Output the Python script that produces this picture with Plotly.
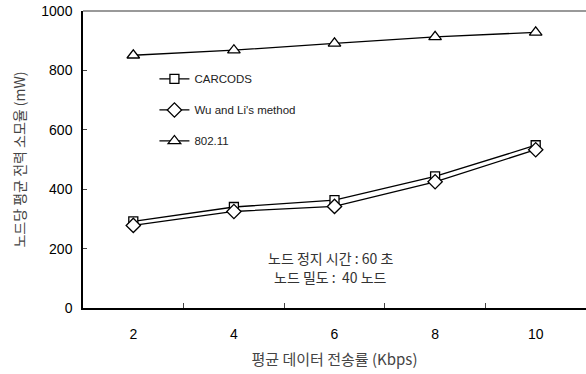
import plotly.graph_objects as go

categories = ["2", "4", "6", "8", "10"]
carcods = [292, 340, 363, 443, 548]
wu_li = [278, 325, 342, 425, 533]
ieee80211 = [851, 868, 891, 913, 928]
series_names = ["CARCODS", "Wu and Li's method", "802.11"]
y_ticks = [0, 200, 400, 600, 800, 1000]
note_lines = ["노드 정지 시간 : 60 초", "노드 밀도 :  40 노드"]

kfont = "Noto Sans CJK KR"
afont = "Liberation Sans, Arial, sans-serif"

fig = go.Figure()
specs = [
    (carcods, series_names[0], "square", 9),
    (wu_li, series_names[1], "diamond", 11),
    (ieee80211, series_names[2], "triangle-up", 11),
]
for vals, name, sym, sz in specs:
    fig.add_trace(go.Scatter(
        x=categories, y=vals, name=name, legendgroup=name,
        mode="lines+markers",
        line=dict(color="black", width=1.3),
        marker=dict(symbol=sym, size=sz, color="white",
                    line=dict(color="black", width=1.3)),
    ))

fig.update_layout(
    width=586, height=374,
    margin=dict(l=83, r=0, t=11, b=66),
    paper_bgcolor="white", plot_bgcolor="white",
    showlegend=True,
    legend=dict(x=0.142, y=0.82, xanchor="left", yanchor="top",
                bgcolor="rgba(0,0,0,0)", tracegroupgap=12,
                font=dict(family=afont, size=11.5, color="#222"),
                itemwidth=30),
    xaxis=dict(
        type="category", range=[-0.5, 4.5], automargin=False,
        tickson="boundaries", ticks="inside", ticklen=5, tickcolor="#444",
        showline=True, linecolor="black", linewidth=1.5,
        showgrid=False, zeroline=False, ticklabelstandoff=12,
        tickfont=dict(family=afont, size=14, color="black"),
        title=dict(text="평균 데이터 전송률 (Kbps)",
                   font=dict(family=kfont, size=15, color="#444"), standoff=14),
    ),
    yaxis=dict(
        range=[0, 1000], tickvals=y_ticks, automargin=False,
        ticks="inside", ticklen=4, tickcolor="#444",
        showline=True, linecolor="black", linewidth=1.5,
        showgrid=False, zeroline=False, ticklabelstandoff=6,
        ticklabeloverflow="allow",
        tickfont=dict(family=afont, size=14, color="black"),
        title=dict(text="노드당 평균 전력 소모율 (mW)",
                   font=dict(family=kfont, size=14, color="#444"), standoff=12),
    ),
)

fig.add_shape(type="line", xref="paper", yref="paper", x0=0, x1=1, y0=1, y1=1,
              line=dict(color="#777", width=1.5))

for txt, yp in zip(note_lines, [0.17, 0.105]):
    fig.add_annotation(
        xref="paper", yref="paper", x=0.493, y=yp, xanchor="center", yanchor="middle",
        text=txt, showarrow=False,
        font=dict(family=kfont, size=14, color="#333"), align="center",
    )

fig.write_html("out.html", config={"displayModeBar": False},
               post_script="document.body.style.margin='0px';")
